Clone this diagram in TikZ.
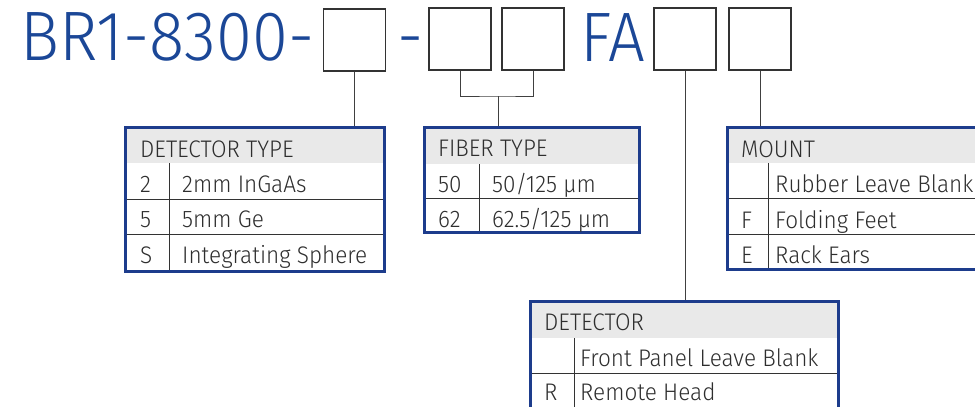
\documentclass[tikz,border=0pt]{standalone}
\usepackage{fontspec}
\setmainfont{Fira Sans}[UprightFont=* Light]
\newfontfamily\titlefont{Fira Sans}[UprightFont=* Light,FakeStretch=0.93]
\newfontfamily\cellfont{Fira Sans}[UprightFont=* Light,FakeStretch=0.94]
\definecolor{titleblue}{HTML}{1B4797}
\definecolor{frameblue}{HTML}{1D3C8C}
\definecolor{headgray}{HTML}{E9E9E9}
\definecolor{txtgray}{HTML}{2E2E2E}
\tikzset{
  codebox/.style={draw=black!80,line width=1.3pt,minimum width=62pt,minimum height=62pt,inner sep=0pt},
  tabframe/.style={draw=frameblue,line width=3pt,inner sep=0pt},
  title/.style={text=titleblue,font=\titlefont\fontsize{70}{70}\selectfont,anchor=base west,inner sep=0pt},
  cell/.style={text=txtgray,font=\cellfont\fontsize{24}{24}\selectfont,anchor=base west,inner sep=0pt},
  lead/.style={draw=black!75,line width=1pt},
  rule/.style={draw=black!80,line width=0.9pt}
}
\begin{document}
\begin{tikzpicture}[x=1pt,y=-1pt]
    \useasboundingbox (0,0) rectangle (975,407);
    \clip (0,0) rectangle (975,407);
    % part number
    \node [title] (pn) at (20,60) {BR1-8300-};
    \node [title] (dash) at (397,60) {-};
    \node [title] (fa) at (580,61) {FA};
    \node [codebox] (b1) at (354.5,40) {};
    \node [codebox] (b2) at (460,39) {};
    \node [codebox] (b3) at (533,39) {};
    \node [codebox] (b4) at (685,39) {};
    \node [codebox] (b5) at (760,39) {};
    % detector type
    \fill [headgray] (125,127) rectangle (384,163);
    \draw [rule] (125,199) -- (384,199);
    \draw [rule] (125,234) -- (384,234);
    \draw [rule] (169,163) -- (169,271);
    \node [tabframe,minimum width=259pt,minimum height=144pt] (dtype) at (254.5,199) {};
    \node [cell] (dth) at (140,157) {DETECTOR TYPE};
    \node [cell] (dt1a) at (140,192) {2};
    \node [cell] (dt1b) at (182,192) {2mm InGaAs};
    \node [cell] (dt2a) at (140,227) {5};
    \node [cell] (dt2b) at (182,227) {5mm Ge};
    \node [cell] (dt3a) at (140,263) {S};
    \node [cell] (dt3b) at (182,263) {Integrating Sphere};
    % fiber type
    \fill [headgray] (424,127) rectangle (639,164);
    \draw [rule] (424,198) -- (639,198);
    \draw [rule] (479,164) -- (479,232);
    \node [tabframe,minimum width=215pt,minimum height=105pt] (fiber) at (531.5,179.5) {};
    \node [cell] (fth) at (438,156) {FIBER TYPE};
    \node [cell] (ft1a) at (438,192) {50};
    \node [cell] (ft1b) at (492,192) {50/125 µm};
    \node [cell] (ft2a) at (438,227) {62};
    \node [cell] (ft2b) at (492,227) {62.5/125 µm};
    % mount
    \fill [headgray] (727,127) rectangle (1000,163);
    \draw [rule] (727,198) -- (1000,198);
    \draw [rule] (727,234) -- (1000,234);
    \draw [rule] (768,163) -- (768,269);
    \node [tabframe,minimum width=273pt,minimum height=142pt] (mount) at (863.5,198) {};
    \node [cell] (mth) at (741,157) {MOUNT};
    \node [cell] (mt1b) at (775,192) {Rubber Leave Blank};
    \node [cell] (mt2a) at (741,228) {F};
    \node [cell] (mt2b) at (775,228) {Folding Feet};
    \node [cell] (mt3a) at (741,263) {E};
    \node [cell] (mt3b) at (775,263) {Rack Ears};
    % detector
    \fill [headgray] (530,301) rectangle (838,338);
    \draw [rule] (530,373) -- (838,373);
    \draw [rule] (574,338) -- (574,420);
    \node [tabframe,minimum width=308pt,minimum height=120pt] (det) at (684,361) {};
    \node [cell] (dh) at (544,330) {DETECTOR};
    \node [cell] (d1b) at (580,366) {Front Panel Leave Blank};
    \node [cell] (d2a) at (544,400) {R};
    \node [cell] (d2b) at (580,400) {Remote Head};
    % leads
    \coordinate (fj) at (498,96);
    \draw [lead] (b1.south) -- (b1.south |- dtype.north);
    \draw [lead] (b2.south) |- (fj) -| (b3.south);
    \draw [lead] (fj) -- (fj |- fiber.north);
    \draw [lead] (b4.south) -- (b4.south |- det.north);
    \draw [lead] (b5.south) -- (b5.south |- mount.north);
\end{tikzpicture}
\end{document}
